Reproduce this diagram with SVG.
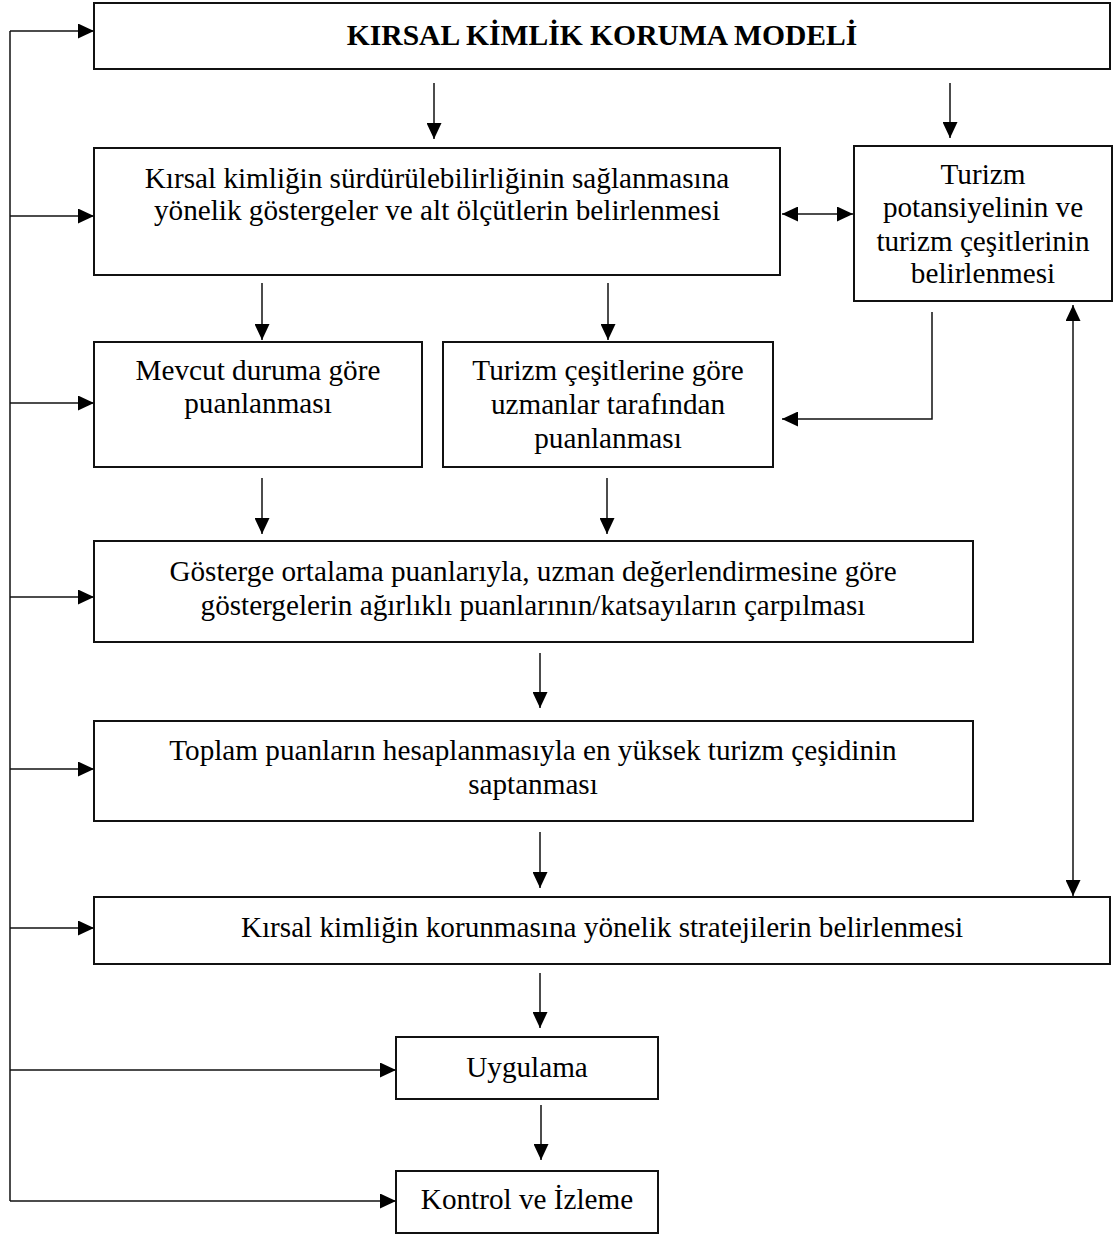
<svg xmlns="http://www.w3.org/2000/svg" width="1116" height="1236" viewBox="0 0 1116 1236">
<style>
.box{fill:#fff;stroke:#111;stroke-width:2}
.t{font-family:"Liberation Serif","Times New Roman",serif;font-size:29.2px;fill:#000;text-anchor:middle}
.b{font-weight:bold;font-size:29.6px}
.c{fill:none;stroke:#111;stroke-width:1.5}
</style>
<defs>
<marker id="ah" viewBox="0 0 16 15" refX="16" refY="7.5" markerWidth="16" markerHeight="15" markerUnits="userSpaceOnUse" orient="auto-start-reverse">
<path d="M0,0 L16,7.5 L0,15 z" fill="#000"/>
</marker>
</defs>
<rect width="1116" height="1236" fill="#fff"/>
<g id="n-title"><rect class="box" x="94" y="3" width="1016" height="66"/><text class="t b" x="602" y="45">KIRSAL KİMLİK KORUMA MODELİ</text></g>
<g id="n-gosterge"><rect class="box" x="94" y="148" width="686" height="127"/><text class="t" x="437" y="188">Kırsal kimliğin sürdürülebilirliğinin sağlanmasına</text><text class="t" x="437" y="220">yönelik göstergeler ve alt ölçütlerin belirlenmesi</text></g>
<g id="n-turizm"><rect class="box" x="854" y="146" width="258" height="155"/><text class="t" x="983" y="184">Turizm</text><text class="t" x="983" y="217">potansiyelinin ve</text><text class="t" x="983" y="251">turizm çeşitlerinin</text><text class="t" x="983" y="283">belirlenmesi</text></g>
<g id="n-mevcut"><rect class="box" x="94" y="342" width="328" height="125"/><text class="t" x="258" y="380">Mevcut duruma göre</text><text class="t" x="258" y="413">puanlanması</text></g>
<g id="n-uzman"><rect class="box" x="443" y="342" width="330" height="125"/><text class="t" x="608" y="380">Turizm çeşitlerine göre</text><text class="t" x="608" y="414">uzmanlar tarafından</text><text class="t" x="608" y="448">puanlanması</text></g>
<g id="n-carpim"><rect class="box" x="94" y="541" width="879" height="101"/><text class="t" x="533" y="581">Gösterge ortalama puanlarıyla, uzman değerlendirmesine göre</text><text class="t" x="533" y="615">göstergelerin ağırlıklı puanlarının/katsayıların çarpılması</text></g>
<g id="n-toplam"><rect class="box" x="94" y="721" width="879" height="100"/><text class="t" x="533" y="760">Toplam puanların hesaplanmasıyla en yüksek turizm çeşidinin</text><text class="t" x="533" y="794">saptanması</text></g>
<g id="n-strateji"><rect class="box" x="94" y="897" width="1016" height="67"/><text class="t" x="602" y="937">Kırsal kimliğin korunmasına yönelik stratejilerin belirlenmesi</text></g>
<g id="n-uygulama"><rect class="box" x="396" y="1037" width="262" height="62"/><text class="t" x="527" y="1077">Uygulama</text></g>
<g id="n-kontrol"><rect class="box" x="396" y="1171" width="262" height="62"/><text class="t" x="527" y="1209">Kontrol ve İzleme</text></g>
<g id="connectors">
<path class="c" d="M10,31 V1201"/>
<path class="c" d="M10,31 H94" marker-end="url(#ah)"/>
<path class="c" d="M10,216 H94" marker-end="url(#ah)"/>
<path class="c" d="M10,403 H94" marker-end="url(#ah)"/>
<path class="c" d="M10,597 H94" marker-end="url(#ah)"/>
<path class="c" d="M10,769 H94" marker-end="url(#ah)"/>
<path class="c" d="M10,928 H94" marker-end="url(#ah)"/>
<path class="c" d="M10,1070 H396" marker-end="url(#ah)"/>
<path class="c" d="M10,1201 H396" marker-end="url(#ah)"/>
<path class="c" d="M434,83 V139" marker-end="url(#ah)"/>
<path class="c" d="M950,83 V138" marker-end="url(#ah)"/>
<path class="c" d="M782,214 H853" marker-start="url(#ah)" marker-end="url(#ah)"/>
<path class="c" d="M262,283 V340" marker-end="url(#ah)"/>
<path class="c" d="M608,283 V340" marker-end="url(#ah)"/>
<path class="c" d="M932,312 V419 H782" marker-end="url(#ah)"/>
<path class="c" d="M262,478 V534" marker-end="url(#ah)"/>
<path class="c" d="M607,478 V534" marker-end="url(#ah)"/>
<path class="c" d="M540,653 V708" marker-end="url(#ah)"/>
<path class="c" d="M540,832 V888" marker-end="url(#ah)"/>
<path class="c" d="M540,973 V1028" marker-end="url(#ah)"/>
<path class="c" d="M541,1105 V1160" marker-end="url(#ah)"/>
<path class="c" d="M1073,305 V896" marker-start="url(#ah)" marker-end="url(#ah)"/>
</g>
</svg>
